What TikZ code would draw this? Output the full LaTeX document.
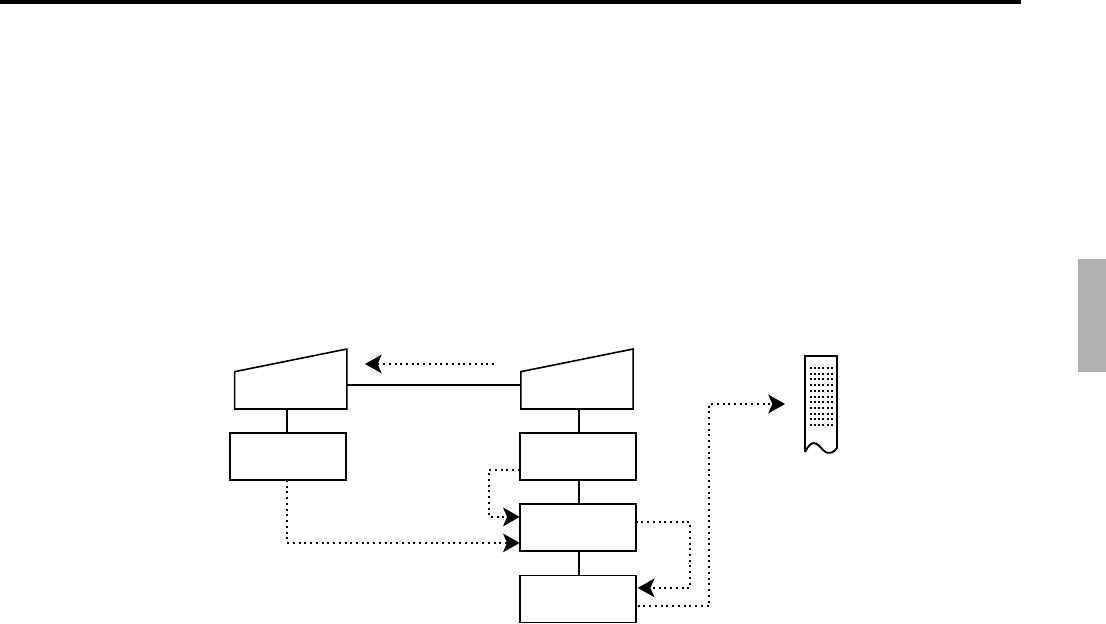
\documentclass[tikz,border=0pt]{standalone}
\usepackage{tikz}
\usetikzlibrary{positioning, arrows.meta, calc}
\definecolor{tabgray}{HTML}{B0B0B0}
\begin{document}
\begin{tikzpicture}[
    x=0.75pt, y=-0.75pt,
    unit/.style={rectangle, draw=black, line width=1.2pt, minimum width=87pt, minimum height=35.2pt, inner sep=0pt, outer sep=0pt},
    display/.style={rectangle, minimum width=84.2pt, minimum height=45pt, inner sep=0pt, outer sep=0pt},
    wire/.style={line width=1.2pt},
    flow/.style={line width=1.5pt, dash pattern=on 1.5pt off 2.8pt, -{Stealth[length=12.5pt, width=14pt, inset=3pt]}}
]
\useasboundingbox (0,0) rectangle (1106,624);
\fill[black] (0,0) rectangle (1021,4);
\fill[tabgray] (1078,259) rectangle (1106,372);

% units
\node[unit] (rega) at (287.75,456.5) {};
\node[unit] (regb) at (577.75,456.5) {};
\node[unit, below=18pt of regb] (regc) {};
\node[unit, below=18.4pt of regc] (regd) {};
\node[display] (dispa) at (290.75,379) {};
\node[display] (dispb) at (577,379) {};

\foreach \n in {dispa, dispb}
    \draw[wire, line join=miter] ([yshift=-17pt]\n.north west) -- (\n.north east) -- (\n.south east) -- (\n.south west) -- cycle;

% solid links
\draw[wire] ([yshift=-4.5pt]dispa.east) -- ([yshift=-4.5pt]dispb.west);
\draw[wire] ([xshift=-0.5pt]rega.north) -- ([xshift=-0.5pt]rega.north |- dispa.south);
\draw[wire] ([xshift=1pt]regb.north) -- ([xshift=1pt]regb.north |- dispb.south);
\draw[wire] ([xshift=1pt]regb.south) -- ([xshift=1pt]regc.north);
\draw[wire] ([xshift=1pt]regc.south) -- ([xshift=1pt]regd.north);

% dotted flows
\coordinate (backstart) at (494,364);
\coordinate (backend) at (365,364);
\coordinate (slipin) at (785,404);
\draw[flow] (backstart) -- (backend);
\draw[flow] ([yshift=-10pt]regb.west) -- ++(-31,0) |- ([yshift=7.9pt]regc.west);
\draw[flow] ([xshift=-0.5pt]rega.south) |- ([yshift=-11.6pt]regc.west);
\draw[flow] ([yshift=4.1pt]regc.east) -- ++(54,0) |- ([xshift=1.5pt,yshift=8.25pt]regd.east);
\draw[flow] ([xshift=1.5pt,yshift=-5.25pt]regd.east) -| (709,404) -- (slipin);

% slip
\draw[line width=1.4pt, line join=miter] (805,452) -- (805,356) -- (837,356) -- (837,448)
    .. controls (834,452) and (829,456) .. (823,450)
    .. controls (817,443) and (812,438) .. (805,452);
\foreach \r in {0,...,10}
    \foreach \c in {0,...,5}
        \fill[black] ({810.5+\c*4.3-1},{368+\r*5.7-1}) rectangle ++(2,2);
\end{tikzpicture}
\end{document}
